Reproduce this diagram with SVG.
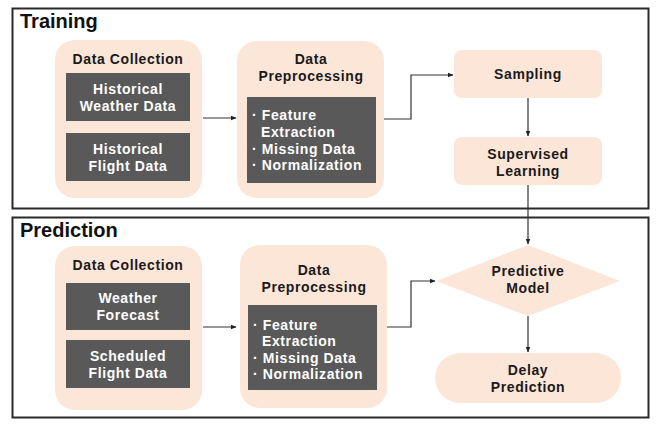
<svg xmlns="http://www.w3.org/2000/svg" width="665" height="427" viewBox="0 0 665 427">
<defs>
<marker id="ah" viewBox="0 0 10 10" refX="9" refY="5" markerWidth="6" markerHeight="6" orient="auto" markerUnits="userSpaceOnUse">
<path d="M0,1 L10,5 L0,9 z" fill="#222"/>
</marker>
<style>
.frame{fill:#fff;stroke:#2a2a2a;stroke-width:2}
.peach{fill:#fce6d8}
.dark{fill:#595959}
.title{font-family:"Liberation Sans",Arial,sans-serif;font-weight:bold;font-size:20px;fill:#111}
.h{font-family:"Liberation Sans",Arial,sans-serif;font-weight:bold;font-size:14px;letter-spacing:0.6px;fill:#1a1a1a;text-anchor:middle}
.w{font-family:"Liberation Sans",Arial,sans-serif;font-weight:bold;font-size:14px;letter-spacing:0.6px;fill:#fff;text-anchor:middle}
.wl{font-family:"Liberation Sans",Arial,sans-serif;font-weight:bold;font-size:14px;letter-spacing:0.6px;fill:#fff}
.conn{fill:none;stroke:#333;stroke-width:1.2}
</style>
</defs>
<rect width="665" height="427" fill="#fff"/>
<g id="training-frame">
<rect class="frame" x="12.5" y="8.5" width="636" height="200"/>
<text class="title" x="20" y="28">Training</text>
</g>
<g id="prediction-frame">
<rect class="frame" x="12.5" y="217.5" width="636" height="200"/>
<text class="title" x="20" y="237">Prediction</text>
</g>
<g id="connectors">
<path class="conn" d="M203,118 H236" marker-end="url(#ah)"/>
<path class="conn" d="M384,119 H411 V75 H453" marker-end="url(#ah)"/>
<path class="conn" d="M528,98 V136" marker-end="url(#ah)"/>
<path class="conn" d="M528,185 V244" marker-end="url(#ah)"/>
<path class="conn" d="M203,327 H236" marker-end="url(#ah)"/>
<path class="conn" d="M387,327 H411 V281 H435" marker-end="url(#ah)"/>
<path class="conn" d="M528,316 V352" marker-end="url(#ah)"/>
</g>
<g id="train-collection">
<rect class="peach" x="55" y="40" width="147" height="158" rx="20"/>
<text class="h" x="128" y="64">Data Collection</text>
<rect class="dark" x="66" y="73" width="124" height="48"/>
<text class="w" x="128" y="94">Historical</text>
<text class="w" x="128" y="111">Weather Data</text>
<rect class="dark" x="66" y="133" width="124" height="48"/>
<text class="w" x="128" y="154">Historical</text>
<text class="w" x="128" y="171">Flight Data</text>
</g>
<g id="train-preprocessing">
<rect class="peach" x="237" y="41" width="147" height="157" rx="20"/>
<text class="h" x="311" y="64">Data</text>
<text class="h" x="311" y="81">Preprocessing</text>
<rect class="dark" x="247" y="97" width="129" height="86"/>
<text class="wl" x="252" y="120">· Feature</text>
<text class="wl" x="261" y="137">Extraction</text>
<text class="wl" x="252" y="154">· Missing Data</text>
<text class="wl" x="252" y="170">· Normalization</text>
</g>
<g id="sampling">
<rect class="peach" x="454" y="50" width="148" height="48" rx="8"/>
<text class="h" x="528" y="79">Sampling</text>
</g>
<g id="supervised">
<rect class="peach" x="454" y="137" width="148" height="48" rx="8"/>
<text class="h" x="528" y="159">Supervised</text>
<text class="h" x="528" y="176">Learning</text>
</g>
<g id="pred-collection">
<rect class="peach" x="55" y="246" width="147" height="164" rx="20"/>
<text class="h" x="128" y="270">Data Collection</text>
<rect class="dark" x="66" y="283" width="124" height="47"/>
<text class="w" x="128" y="303">Weather</text>
<text class="w" x="128" y="320">Forecast</text>
<rect class="dark" x="66" y="340" width="124" height="48"/>
<text class="w" x="128" y="361">Scheduled</text>
<text class="w" x="128" y="378">Flight Data</text>
</g>
<g id="pred-preprocessing">
<rect class="peach" x="240" y="245" width="147" height="163" rx="20"/>
<text class="h" x="314" y="275">Data</text>
<text class="h" x="314" y="292">Preprocessing</text>
<rect class="dark" x="248" y="305" width="129" height="85"/>
<text class="wl" x="253" y="330">· Feature</text>
<text class="wl" x="262" y="346">Extraction</text>
<text class="wl" x="253" y="363">· Missing Data</text>
<text class="wl" x="253" y="379">· Normalization</text>
</g>
<g id="predictive-model">
<polygon class="peach" points="528,245 620,281 528,316 436,281"/>
<text class="h" x="528" y="276">Predictive</text>
<text class="h" x="528" y="293">Model</text>
</g>
<g id="delay-prediction">
<rect class="peach" x="435" y="353" width="186" height="50" rx="25"/>
<text class="h" x="528" y="375">Delay</text>
<text class="h" x="528" y="392">Prediction</text>
</g>
</svg>
